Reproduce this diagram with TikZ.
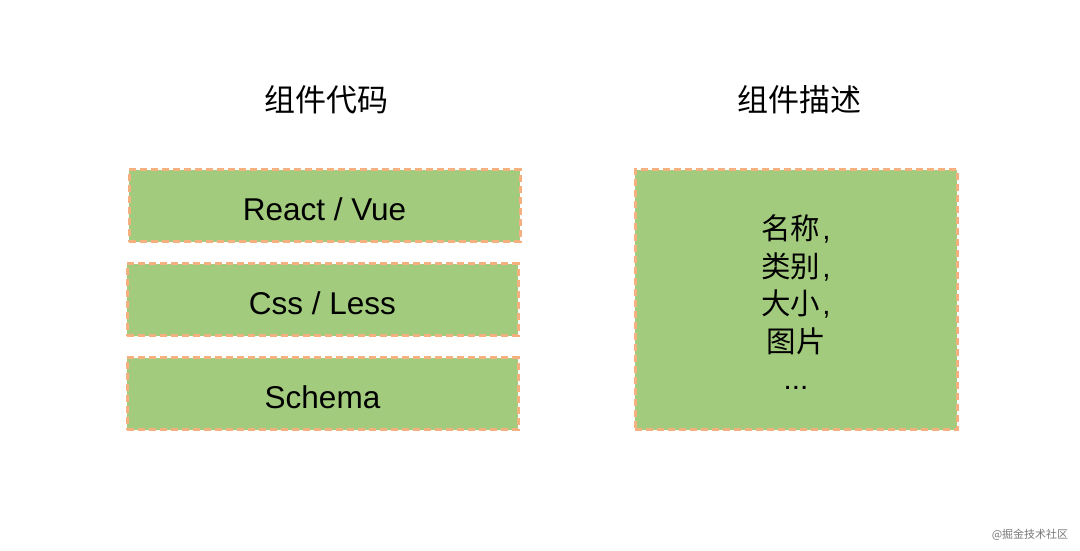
\documentclass[tikz,border=0pt]{standalone}
\usepackage{fontspec}
\setmainfont{Liberation Sans}
\newfontfamily\cjk{Noto Sans CJK SC}
\definecolor{boxfill}{RGB}{162,203,126}
\definecolor{boxline}{RGB}{245,176,128}
\definecolor{wmgray}{RGB}{120,120,120}
\newcommand{\cm}{\kern2pt,}
\begin{document}
\begin{tikzpicture}[x=1pt,y=1pt,
  codebox/.style={draw=boxline, fill=boxfill, line width=3pt,
    dash pattern=on 7pt off 4pt, inner sep=0pt, minimum width=391pt,
    minimum height=72pt, font=\fontsize{31.5}{36}\selectfont,
    text height=29pt, text depth=0pt},
  descbox/.style={draw=boxline, fill=boxfill, line width=3pt,
    dash pattern=on 7pt off 4pt, inner sep=0pt, minimum width=322pt,
    minimum height=260pt},
  title/.style={font=\cjk\fontsize{31}{36}\selectfont, anchor=base, inner sep=0pt}]
\useasboundingbox (0,0) rectangle (1080,551);
\fill[white] (0,0) rectangle (1080,551);
\node[title] (t1) at (326,439) {组件代码};
\node[title] (t2) at (799,439) {组件描述};
\node[codebox] (b1) at (324.5,345) {React / Vue};
\node[codebox] (b2) at (322.5,251) {Css / Less};
\node[codebox] (b3) at (322.5,157) {Schema};
\node[descbox] (d) at (796,251) {};
\node[font=\fontsize{29.5}{37.5}\selectfont, align=center, anchor=base, inner sep=0pt] (dt) at (796,161)
  {{\cjk 名称}\cm\\{\cjk 类别}\cm\\{\cjk 大小}\cm\\{\cjk 图片}\\...};
\node[font=\cjk\fontsize{11}{13}\selectfont, text=wmgray, anchor=center, inner sep=0pt] (wm) at (1030,16) {@掘金技术社区};
\end{tikzpicture}
\end{document}
